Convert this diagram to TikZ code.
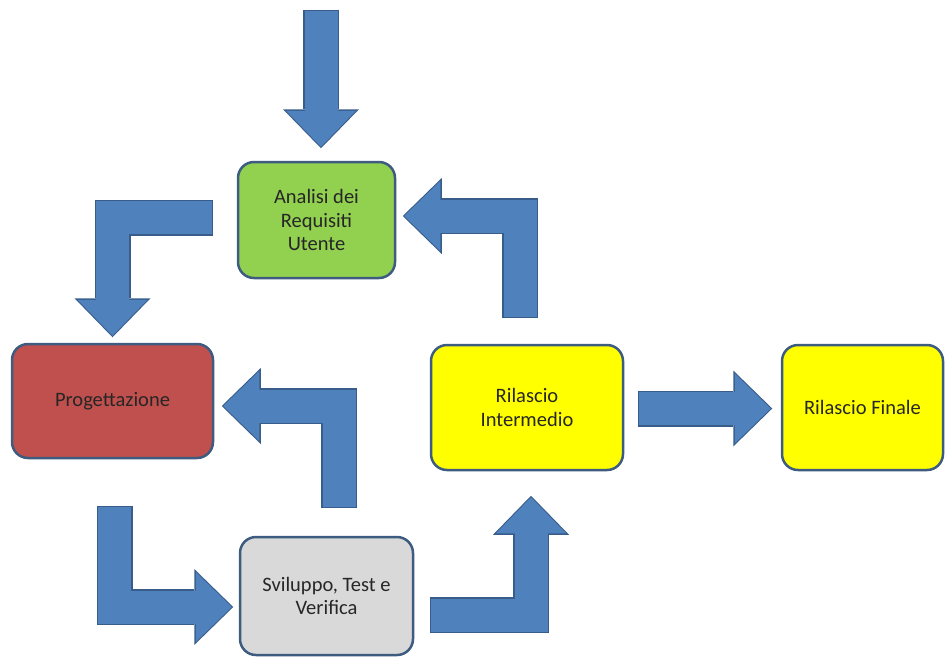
\documentclass[tikz,border=0pt]{standalone}
\usepackage{fontspec}
\setmainfont{Carlito}
\usetikzlibrary{arrows.meta,calc}

\definecolor{arrowfill}{HTML}{4F81BD}
\definecolor{arrowedge}{HTML}{385D8A}
\definecolor{boxedge}{HTML}{3D5C80}
\definecolor{boxgreen}{HTML}{92D050}
\definecolor{boxred}{HTML}{C0504D}
\definecolor{boxgrey}{HTML}{D9D9D9}
\definecolor{boxyellow}{HTML}{FFFF00}

\begin{document}
\begin{tikzpicture}[x=1pt, y=-1pt,
    box/.style={draw=boxedge, line width=2.5pt, rounded corners=16pt,
        align=center, inner sep=0pt, text=black!85,
        font=\fontsize{20.5}{23.5}\selectfont},
    blockarrow/.style={draw=arrowfill, line width=33pt,
        -{Triangle[length=36pt, width=70pt, line width=0pt]},
        preaction={draw=arrowedge, line width=36pt,
            shorten >=-1.5pt, shorten <=-1.5pt,
            -{Triangle[length=39pt, width=76pt, line width=0pt]}}}]
    \useasboundingbox (0,0) rectangle (947,657);

    % phases of the cycle
    \node[box, fill=boxgreen, minimum width=157pt, minimum height=116pt]
        (an) at (316.5,220) {Analisi dei\\Requisiti\\Utente};
    \node[box, fill=boxred, minimum width=201pt, minimum height=114pt]
        (pr) at (112.5,401) {Progettazione};
    \node[box, fill=boxgrey, minimum width=173pt, minimum height=118pt]
        (sv) at (326.5,596) {Sviluppo, Test e\\Verifica};
    \node[box, fill=boxyellow, minimum width=192pt, minimum height=125pt]
        (ri) at (527,407.5) {Rilascio\\Intermedio};
    \node[box, fill=boxyellow, minimum width=161pt, minimum height=125pt]
        (rf) at (862.5,407.5) {Rilascio Finale};

    % entry arrow
    \coordinate (start) at (321,11);
    \draw[blockarrow] (start) -- ($(an.north)+(4.5,-14)$);

    % block arrows between the phases
    \draw[blockarrow] ($(an.west)+(-25,-2.5)$) -| ($(pr.north)+(0,-7)$);
    \draw[blockarrow] ($(pr.south)+(2,48)$) |- ($(sv.west)+(-7,11)$);
    \draw[blockarrow] ($(sv.north)+(12.5,-29)$) |- ($(pr.east)+(9,5)$);
    \draw[blockarrow] ($(sv.east)+(17,19)$) -| ($(ri.south)+(4,26)$);
    \draw[blockarrow] ($(ri.north)+(-7,-27)$) |- ($(an.east)+(8,-4)$);
    \draw[blockarrow] ($(ri.east)+(15,1)$) -- ($(rf.west)+(-10,1)$);
\end{tikzpicture}
\end{document}
